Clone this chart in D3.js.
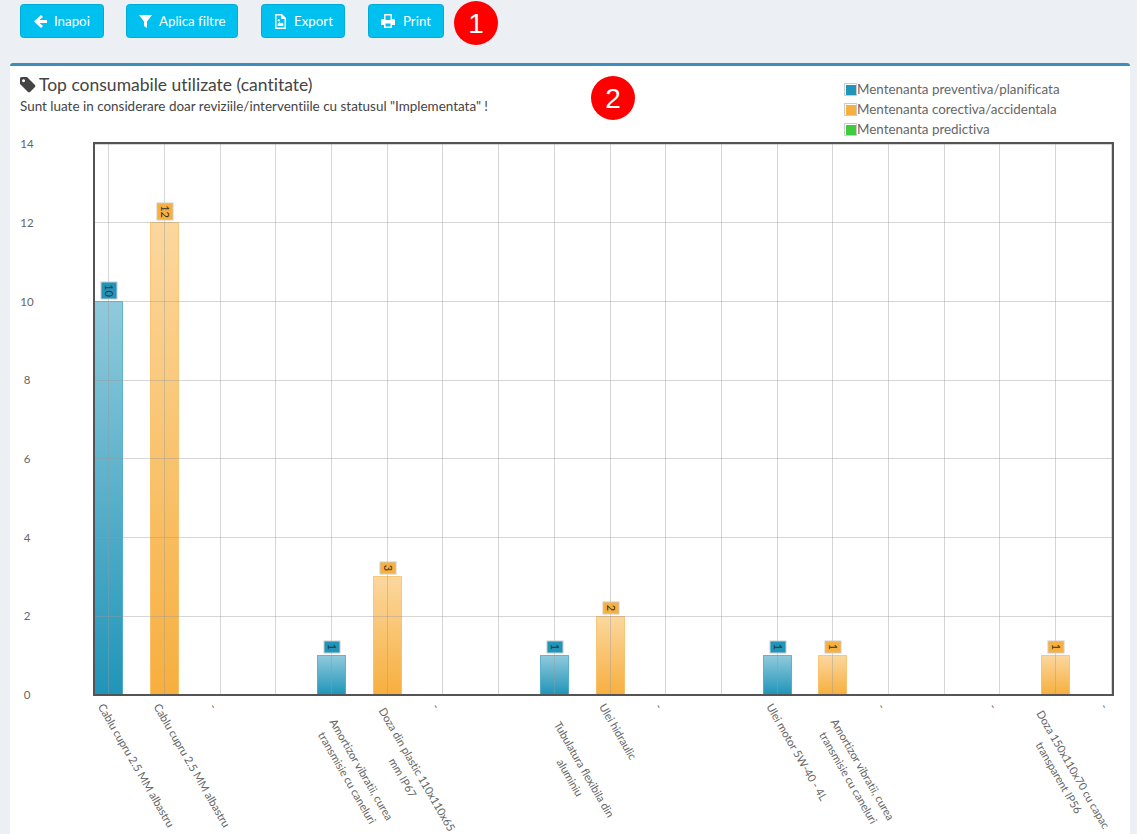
<!DOCTYPE html>
<html>
<head>
<meta charset="utf-8">
<title>Top consumabile utilizate</title>
<script src="https://cdnjs.cloudflare.com/ajax/libs/d3/7.8.5/d3.min.js"></script>
<style>
  html, body { margin: 0; padding: 0; background: #ecf0f5; overflow: hidden; }
  svg { display: block; font-family: Lato, "Noto Sans", sans-serif; font-variant-ligatures: none; }
</style>
</head>
<body>
<div class="chart"></div>
<script>
var svgWidth = 1137;
var svgHeight = 834;

// Chart values, one slot per x position
var categories = [
  ["Cablu cupru 2.5 MM albastru"],
  ["Cablu cupru 2.5 MM albastru"],
  ["-"],
  [""],
  ["Amortizor vibratii, curea", "transmisie cu caneluri"],
  ["Doza din plastic 110x110x65", "mm IP67"],
  ["-"],
  [""],
  ["Tubulatura flexibila din", "aluminiu"],
  ["Ulei hidraulic"],
  ["-"],
  [""],
  ["Ulei motor 5W-40 - 4L"],
  ["Amortizor vibratii, curea", "transmisie cu caneluri"],
  ["-"],
  [""],
  ["-"],
  ["Doza 150x110x70 cu capac", "transparent IP56"],
  ["-"]
];
var preventive = [10, 0, 0, 0, 1, 0, 0, 0, 1, 0, 0, 0, 1, 0, 0, 0, 0, 0, 0];
var corrective = [0, 12, 0, 0, 0, 3, 0, 0, 0, 2, 0, 0, 0, 1, 0, 0, 0, 1, 0];
var predictive = [0, 0, 0, 0, 0, 0, 0, 0, 0, 0, 0, 0, 0, 0, 0, 0, 0, 0, 0];
var legendNames = ["Mentenanta preventiva/planificata", "Mentenanta corectiva/accidentala", "Mentenanta predictiva"];
var yTicks = [0, 2, 4, 6, 8, 10, 12, 14];
var buttonNames = ["Inapoi", "Aplica filtre", "Export", "Print"];

var colors = ["#2095b9", "#f7af3e", "#3ecb3e"];

var plot = { left: 94, right: 1113, top: 144, bottom: 695 };

var svg = d3.select(".chart")
  .append("svg")
  .attr("width", svgWidth)
  .attr("height", svgHeight);

// Page furniture
svg.append("rect")
  .attr("x", 10).attr("y", 63)
  .attr("width", 1120).attr("height", 800)
  .attr("rx", 3)
  .attr("fill", "#3c8dbc");
svg.append("rect")
  .attr("x", 10).attr("y", 66)
  .attr("width", 1120).attr("height", 800)
  .attr("fill", "#fff");

var icons = [
  "M8 1 L1 7.5 L8 14 L10 12 L6.5 9 L14 9 L14 6 L6.5 6 L10 3 Z",
  "M0 1 L13 1 L8 7.5 L8 14 L5 12 L5 7.5 Z",
  "M1 0 L8 0 L12 4 L12 15 L1 15 Z M2.5 1.5 L2.5 13.5 L10.5 13.5 L10.5 5 L7 5 L7 1.5 Z M3.7 12 L3.7 10 L5.5 8 L7 9.5 L8 8.5 L9.3 9.8 L9.3 12 Z M4.7 5 a1.2 1.2 0 1 0 .1 0 Z",
  "M3 0 L11 0 L11 5 L13 5 Q14 5 14 7 L14 11 L11 11 L11 14 L3 14 L3 11 L0 11 L0 7 Q0 5 1 5 L3 5 Z M4.5 1.5 L4.5 6 L9.5 6 L9.5 1.5 Z M4.5 9.5 L4.5 12.5 L9.5 12.5 L9.5 9.5 Z"
];
var buttonX = [20, 126, 261, 368];
var buttonW = [84, 112, 84, 76];
var buttonText = [34, 33, 33, 35];

buttonNames.forEach(function (name, i) {
  var g = svg.append("g").attr("transform", `translate(${buttonX[i]}, 4)`);
  g.append("rect")
    .attr("x", 0.5).attr("y", 0.5)
    .attr("width", buttonW[i] - 1).attr("height", 33)
    .attr("rx", 3)
    .attr("fill", "#00c0ef")
    .attr("stroke", "#00acd6");
  g.append("path")
    .attr("d", icons[i])
    .attr("fill-rule", "evenodd")
    .attr("transform", "translate(13, 10)")
    .attr("fill", "#fff");
  g.append("text")
    .attr("x", buttonText[i])
    .attr("y", 22)
    .attr("font-size", 13.3)
    .attr("fill", "#fff")
    .text(name);
});

function badge(cx, cy, label) {
  svg.append("circle")
    .attr("cx", cx).attr("cy", cy).attr("r", 22)
    .attr("fill", "#fe0000");
  svg.append("text")
    .attr("x", cx).attr("y", cy + 10)
    .attr("text-anchor", "middle")
    .attr("font-family", "Liberation Sans")
    .attr("font-size", 28)
    .attr("fill", "#fff")
    .text(label);
}
badge(476, 23, "1");
badge(613, 98, "2");

// Title
svg.append("path")
  .attr("d", "M0 1.5 Q0 0 1.5 0 L7 0 L15 8 Q15.8 9 15 10 L10 15 Q9 15.8 8 15 L0 7 Z M3.5 2.2 a1.5 1.5 0 1 0 .1 0 Z")
  .attr("fill-rule", "evenodd")
  .attr("transform", "translate(20, 77)")
  .attr("fill", "#444");
svg.append("text")
  .attr("x", 39).attr("y", 91)
  .attr("font-size", 17.5)
  .attr("fill", "#444")
  .text("Top consumabile utilizate (cantitate)");
svg.append("text")
  .attr("x", 20).attr("y", 111)
  .attr("font-size", 13.46)
  .attr("fill", "#444")
  .text("Sunt luate in considerare doar reviziile/interventiile cu statusul \"Implementata\" !");

// Legend
var legend = svg.append("g").selectAll("g")
  .data(legendNames)
  .enter()
  .append("g")
  .attr("transform", (d, i) => `translate(844, ${83 + i * 20})`);
legend.append("rect")
  .attr("x", 0.5).attr("y", 0.5)
  .attr("width", 12).attr("height", 12)
  .attr("fill", "#fff")
  .attr("stroke", "#ccc");
legend.append("rect")
  .attr("x", 2).attr("y", 2)
  .attr("width", 10).attr("height", 10)
  .attr("fill", (d, i) => colors[i]);
legend.append("text")
  .attr("x", 13).attr("y", 11)
  .attr("font-size", 13.4)
  .attr("fill", "#666")
  .text(d => d);

// Scales
var xScale = d3.scaleLinear()
  .domain([-0.2567, 18.0379])
  .range([plot.left, plot.right]);
var yScale = d3.scaleLinear()
  .domain([0, 14])
  .range([plot.bottom, plot.top]);
var barWidth = xScale(0.5) - xScale(0);

// whole pixel positions, x rounds and y floors to land on the same rows as the original
var crispX = v => Math.round(v) + 0.5;
var crispY = v => Math.floor(v) + 0.5;

var defs = svg.append("defs");
colors.forEach(function (color, i) {
  var grad = defs.append("linearGradient")
    .attr("id", "bar" + i)
    .attr("x1", 0).attr("y1", 0)
    .attr("x2", 0).attr("y2", 1);
  grad.append("stop").attr("offset", "0%").attr("stop-color", color).attr("stop-opacity", 0.5);
  grad.append("stop").attr("offset", "100%").attr("stop-color", color).attr("stop-opacity", 1);
});

// Bars
[preventive, corrective, predictive].forEach(function (values, s) {
  var shown = values.map((v, i) => ({ i: i, v: v })).filter(d => d.v > 0);

  svg.append("g").selectAll("rect")
    .data(shown)
    .enter()
    .append("rect")
    .attr("x", d => crispX(xScale(d.i) - barWidth / 2))
    .attr("y", d => crispY(yScale(d.v)))
    .attr("width", Math.round(barWidth))
    .attr("height", d => Math.round(yScale(0) - yScale(d.v)))
    .attr("fill", `url(#bar${s})`)
    .attr("stroke", colors[s])
    .attr("stroke-opacity", 0.6);
});

// Grid sits on top of the bars
var grid = svg.append("g");
grid.selectAll("line.v")
  .data(categories.map((d, i) => i))
  .enter()
  .append("line")
  .attr("class", "v")
  .attr("x1", d => crispX(xScale(d))).attr("x2", d => crispX(xScale(d)))
  .attr("y1", plot.top).attr("y2", plot.bottom)
  .attr("stroke", "#999")
  .attr("stroke-opacity", 0.4);
grid.selectAll("line.h")
  .data(yTicks)
  .enter()
  .append("line")
  .attr("class", "h")
  .attr("x1", plot.left).attr("x2", plot.right)
  .attr("y1", d => crispY(yScale(d))).attr("y2", d => crispY(yScale(d)))
  .attr("stroke", "#999")
  .attr("stroke-opacity", 0.4);

// Y axis
var leftAxis = d3.axisLeft(yScale).tickValues(yTicks).tickSize(0);
var yAxis = svg.append("g")
  .attr("transform", `translate(${plot.left}, 0)`)
  .call(leftAxis);
yAxis.select(".domain").remove();
yAxis.selectAll("text")
  .attr("font-family", "Lato")
  .attr("font-size", 11.5)
  .attr("fill", "#666")
  .attr("text-anchor", "middle")
  .attr("x", -67);

// Frame
svg.append("rect")
  .attr("x", plot.left).attr("y", plot.top - 1)
  .attr("width", plot.right - plot.left).attr("height", plot.bottom - plot.top + 1)
  .attr("fill", "none")
  .attr("stroke", "#545454")
  .attr("stroke-width", 2);

// Value labels, rotated and boxed above each bar
[preventive, corrective].forEach(function (values, s) {
  values.forEach(function (v, i) {
    if (v <= 0) return;
    var boxH = v >= 10 ? 17 : 12;
    var g = svg.append("g")
      .attr("transform", `translate(${Math.round(xScale(i)) + 1}, ${Math.floor(yScale(v)) - 2 - boxH / 2})`);
    g.append("rect")
      .attr("x", -8).attr("y", -boxH / 2)
      .attr("width", 16).attr("height", boxH)
      .attr("fill", colors[s])
      .attr("stroke", "#ccc");
    g.append("text")
      .attr("transform", "rotate(90)")
      .attr("text-anchor", "middle")
      .attr("y", 4)
      .attr("font-size", 11)
      .attr("fill", "#333")
      .text(v);
  });
});

// X tick labels, rotated 60 degrees. Wrapped labels are centred in a box of
// fixed width, and a label may not stick out past the right of the plot.
var wrapWidth = 150;
var tickLabels = svg.append("g");
categories.forEach(function (lines, i) {
  if (!lines[0]) return;
  var g = tickLabels.append("g");
  var text = g.append("text")
    .attr("font-size", 11.2)
    .attr("letter-spacing", -0.1)
    .attr("fill", "#666");
  var tspans = lines.map(function (line, n) {
    return text.append("tspan")
      .attr("y", 9 + n * 16.5)
      .text(line);
  });
  var lengths = tspans.map(t => t.node().getComputedTextLength());
  var boxWidth = lines.length > 1 ? wrapWidth : lengths[0];
  tspans.forEach(function (t, n) {
    t.attr("x", (boxWidth - lengths[n]) / 2);
  });
  var tx = xScale(i) - 3;
  g.attr("transform", `translate(${tx}, 702) rotate(60)`);
  var overflow = g.node().getBoundingClientRect().right - plot.right;
  if (overflow > 0) {
    g.attr("transform", `translate(${tx - overflow}, 702) rotate(60)`);
  }
});
</script>
</body>
</html>
